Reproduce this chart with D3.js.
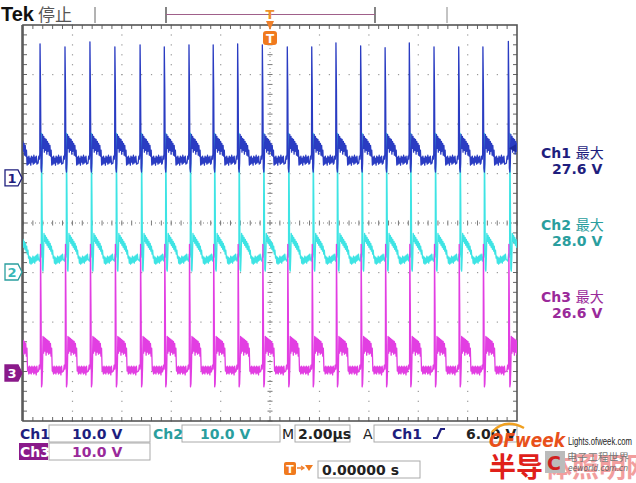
<!DOCTYPE html>
<html>
<head>
<meta charset="utf-8">
<title>Tek scope capture</title>
<script src="https://d3js.org/d3.v7.min.js"></script>
<style>
    html, body { margin: 0; background: #fff; }
    svg { display: block; font-family: "DejaVu Sans", sans-serif; }
</style>
</head>
<body>
<svg id="svg"></svg>
<script>
// spike instants of Ch1 in µs (one extra off each edge)
const spikeTimes = [-10.31, -9.31, -8.30, -7.29, -6.28, -5.26, -4.28, -3.28, -2.30, -1.31, -0.31,
    0.70, 1.69, 2.67, 3.67, 4.66, 5.64, 6.64, 7.64, 8.62, 9.65, 10.65];
// Ch1 spike tops in volts, one per spike
const ch1Peaks = [26.8, 27.1, 26.5, 27.5, 26.5, 26.9, 26.5, 26.9, 26.9, 27.1, 26.9,
    26.5, 26.5, 27.3, 26.7, 26.3, 27.3, 26.5, 26.5, 26.5, 27.6, 26.8];

const channelNames = ["Ch1", "Ch2", "Ch3"];
const channelOffsets = [0.91, -0.99, -3.03];   // ground marker, divisions
const channelDelays = [0, 0.06, 0.02];         // µs behind Ch1 spike
const channelPeaks = [null, 28.0, 26.0];
const channelMax = ["27.6 V", "28.0 V", "26.6 V"];
const voltsPerDiv = 10;

// one period of each trace: [µs after spike, volts]; null = spike top
const ch1Shape = [[-0.08, 3.0], [-0.05, 4.4], [-0.025, 3.8], [-0.01, 5.0], [0, null], [0.02, 18], [0.04, 2.0],
    [0.06, 1.2], [0.08, 3.0], [0.10, 8.8], [0.125, 6.0], [0.15, 8.4], [0.175, 5.2], [0.20, 8.0], [0.225, 5.6],
    [0.25, 7.8], [0.275, 4.8], [0.30, 7.4], [0.325, 5.4], [0.35, 7.0], [0.375, 4.6], [0.40, 6.6], [0.425, 4.4],
    [0.45, 5.6], [0.475, 2.6], [0.50, 4.2], [0.525, 2.8], [0.55, 4.4], [0.575, 3.0], [0.60, 4.0], [0.625, 2.6],
    [0.65, 4.4], [0.675, 3.2], [0.70, 4.2], [0.725, 2.8], [0.75, 4.6], [0.775, 3.0], [0.80, 4.2], [0.825, 3.2],
    [0.85, 4.4], [0.875, 2.8]];
const ch2Shape = [[-0.08, 2.2], [-0.05, 3.6], [-0.025, 3.0], [-0.01, 4.0], [0, null], [0.02, 16], [0.04, 0.6],
    [0.06, 0.2], [0.08, 3.0], [0.10, 7.8], [0.125, 6.2], [0.15, 7.4], [0.175, 5.8], [0.20, 7.0], [0.225, 5.4],
    [0.25, 6.6], [0.275, 5.0], [0.30, 6.2], [0.325, 4.6], [0.35, 5.8], [0.375, 4.2], [0.40, 5.2], [0.425, 3.6],
    [0.45, 4.4], [0.475, 2.8], [0.50, 3.2], [0.525, 1.8], [0.55, 3.0], [0.575, 1.6], [0.60, 2.8], [0.625, 1.8],
    [0.65, 3.2], [0.675, 2.0], [0.70, 3.0], [0.725, 1.8], [0.75, 3.2], [0.775, 2.2], [0.80, 3.4], [0.825, 2.4],
    [0.85, 3.6], [0.875, 2.6]];
const ch3Shape = [[-0.08, 0.4], [-0.05, 1.6], [-0.025, 0.8], [-0.01, 2.0], [0, null], [0.02, 14], [0.04, -2.8],
    [0.06, -2.2], [0.08, 1.0], [0.10, 7.4], [0.125, 4.0], [0.15, 7.2], [0.175, 4.4], [0.20, 7.0], [0.225, 3.6],
    [0.25, 6.8], [0.275, 4.2], [0.30, 6.6], [0.325, 3.8], [0.35, 6.4], [0.375, 4.0], [0.40, 6.0], [0.425, 3.4],
    [0.45, 5.0], [0.475, 0.4], [0.50, 1.2], [0.525, -0.2], [0.55, 1.4], [0.575, 0.0], [0.60, 1.2], [0.625, -0.2],
    [0.65, 1.4], [0.675, 0.2], [0.70, 1.2], [0.725, -0.2], [0.75, 1.4], [0.775, 0.0], [0.80, 1.2], [0.825, -0.4],
    [0.85, 1.4], [0.875, 0.2]];
const shapes = [ch1Shape, ch2Shape, ch3Shape];

const colors = ["#2a3cc2", "#3ee4e4", "#e23ee2"];
const labelColors = ["#1e1e7e", "#2a9e9e", "#9a2a9a"];

const svg = d3.select("#svg").attr("width", 636).attr("height", 483);
svg.append("rect").attr("width", 636).attr("height", 483).attr("fill", "#fff");

const x = d3.scaleLinear().domain([-10, 10]).range([23, 517]);
const y = d3.scaleLinear().domain([-4, 4]).range([421, 25]);

// ---- graticule
const grid = svg.append("g");
const xDots = d3.range(-10, 10.001, 0.4);
const yDots = d3.range(-4, 4.001, 0.2);
d3.range(-8, 8.001, 2).filter(v => v !== 0).forEach(v => {
    grid.selectAll(null).data(yDots).enter().append("rect")
        .attr("x", x(v) - 0.5).attr("y", d => y(d) - 0.5).attr("width", 1.2).attr("height", 1.2)
        .attr("fill", "#999");
});
d3.range(-3, 3.001, 1).filter(v => v !== 0).forEach(v => {
    grid.selectAll(null).data(xDots).enter().append("rect")
        .attr("x", d => x(d) - 0.5).attr("y", y(v) - 0.5).attr("width", 1.2).attr("height", 1.2)
        .attr("fill", "#999");
});
// centre cross with ticks
grid.selectAll(null).data(xDots).enter().append("line")
    .attr("x1", d => x(d)).attr("x2", d => x(d)).attr("y1", y(0) - 2.5).attr("y2", y(0) + 2.5)
    .attr("stroke", "#777");
grid.selectAll(null).data(yDots).enter().append("line")
    .attr("y1", d => y(d)).attr("y2", d => y(d)).attr("x1", x(0) - 2.5).attr("x2", x(0) + 2.5)
    .attr("stroke", "#777");
grid.append("line").attr("x1", x(-10)).attr("x2", x(10)).attr("y1", y(0)).attr("y2", y(0))
    .attr("stroke", "#888").attr("stroke-dasharray", "1,3");
grid.append("line").attr("x1", x(0)).attr("x2", x(0)).attr("y1", y(-4)).attr("y2", y(4))
    .attr("stroke", "#888").attr("stroke-dasharray", "1,3");
// border ticks
const edgeX = xDots.slice(1, -1), edgeY = yDots.slice(1, -1);
grid.selectAll(null).data(edgeX).enter().append("line")
    .attr("x1", d => x(d)).attr("x2", d => x(d)).attr("y1", y(4)).attr("y2", y(4) + 4).attr("stroke", "#666");
grid.selectAll(null).data(edgeX).enter().append("line")
    .attr("x1", d => x(d)).attr("x2", d => x(d)).attr("y1", y(-4)).attr("y2", y(-4) - 4).attr("stroke", "#666");
grid.selectAll(null).data(edgeY).enter().append("line")
    .attr("y1", d => y(d)).attr("y2", d => y(d)).attr("x1", x(-10)).attr("x2", x(-10) + 4).attr("stroke", "#666");
grid.selectAll(null).data(edgeY).enter().append("line")
    .attr("y1", d => y(d)).attr("y2", d => y(d)).attr("x1", x(10)).attr("x2", x(10) - 4).attr("stroke", "#666");

// ---- traces
svg.append("clipPath").attr("id", "screen").append("rect")
    .attr("x", x(-10)).attr("y", y(4)).attr("width", x(10) - x(-10)).attr("height", y(-4) - y(4));

function buildTrace(shape, delay, peak) {
    const pts = [];
    spikeTimes.forEach((s, i) => {
        const next = i < spikeTimes.length - 1 ? spikeTimes[i + 1] : Infinity;
        shape.forEach(([dt, v]) => {
            if (s + dt >= next - 0.085) return;
            pts.push([s + delay + dt, v === null ? (peak === null ? ch1Peaks[i] : peak) : v]);
        });
    });
    return pts;
}

const traces = svg.append("g").attr("clip-path", "url(#screen)");
[1, 2, 0].forEach(c => {
    const line = d3.line()
        .x(d => x(d[0]))
        .y(d => y(channelOffsets[c] + d[1] / voltsPerDiv));
    traces.append("path")
        .attr("d", line(buildTrace(shapes[c], channelDelays[c], channelPeaks[c])))
        .attr("fill", "none")
        .attr("stroke", colors[c])
        .attr("stroke-width", 1.3)
        .attr("stroke-linejoin", "round");
});

grid.append("rect").attr("x", x(-10)).attr("y", y(4)).attr("width", x(10) - x(-10)).attr("height", y(-4) - y(4))
    .attr("fill", "none").attr("stroke", "#555").attr("stroke-width", 1.6);
svg.append("line").attr("x1", x(-10) - 1).attr("x2", x(-10) - 1).attr("y1", y(4)).attr("y2", y(-4))
    .attr("stroke", "#555").attr("stroke-width", 1.5);

// ---- ground markers
channelOffsets.forEach((off, c) => {
    const gy = y(off);
    const g = svg.append("g");
    g.append("path")
        .attr("d", `M5,${gy - 8}H18L22,${gy}L18,${gy + 8}H5Z`)
        .attr("fill", c === 2 ? "#8a1a8a" : "#fff")
        .attr("stroke", c === 2 ? "#8a1a8a" : labelColors[c]).attr("stroke-width", 1.3);
    g.append("text").attr("x", 12).attr("y", gy + 5).attr("text-anchor", "middle")
        .attr("font-size", 13).attr("font-weight", "bold")
        .attr("fill", c === 2 ? "#fff" : (c === 1 ? "#3ab8b8" : labelColors[c]))
        .text(c + 1);
});

// trigger level arrow (Ch1, 6 V)
const trigY = y(channelOffsets[0] + 6 / voltsPerDiv);
svg.append("path").attr("d", `M509,${trigY}L516,${trigY - 4}V${trigY + 4}Z`).attr("fill", "#1e2a9a");

// ---- right side readouts
channelNames.forEach((n, c) => {
    const ty = [158, 230, 302][c];
    svg.append("text").attr("x", 541).attr("y", ty).attr("font-size", 14).attr("fill", labelColors[c])
        .attr("font-weight", "bold").text(n + " ")
        .append("tspan").attr("font-family", "Noto Sans CJK SC").attr("font-weight", "normal").text("最大");
    svg.append("text").attr("x", 552).attr("y", ty + 16).attr("font-size", 14).attr("fill", labelColors[c])
        .attr("font-weight", "bold").text(channelMax[c]);
});

// ---- header
svg.append("text").attr("x", 1).attr("y", 21).attr("font-family", "Liberation Sans").attr("font-size", 20)
    .attr("font-weight", "bold").attr("fill", "#111").text("Tek");
svg.append("text").attr("x", 38).attr("y", 21).attr("font-family", "Noto Sans CJK SC").attr("font-size", 17)
    .attr("fill", "#555").text("停止");
svg.append("line").attr("x1", 95).attr("x2", 95).attr("y1", 7).attr("y2", 23).attr("stroke", "#666");
svg.append("line").attr("x1", 447).attr("x2", 447).attr("y1", 7).attr("y2", 23).attr("stroke", "#888");
svg.append("path").attr("d", "M166,7V23M375,7V23").attr("stroke", "#333").attr("stroke-width", 1.2);
svg.append("line").attr("x1", 166).attr("x2", 375).attr("y1", 14.5).attr("y2", 14.5).attr("stroke", "#a0608a");
const tx = x(0);
svg.append("text").attr("x", tx).attr("y", 19).attr("text-anchor", "middle").attr("font-size", 13)
    .attr("font-weight", "bold").attr("fill", "#f0902a").text("T");
svg.append("path").attr("d", `M${tx - 4},21H${tx + 4}L${tx},30Z`).attr("fill", "#f0802a");
svg.append("rect").attr("x", tx - 7).attr("y", 31).attr("width", 14).attr("height", 14).attr("rx", 3)
    .attr("fill", "#f07a1e");
svg.append("text").attr("x", tx).attr("y", 43).attr("text-anchor", "middle").attr("font-size", 12)
    .attr("font-weight", "bold").attr("fill", "#fff").text("T");

// ---- status bar
const status = svg.append("g").attr("font-size", 14).attr("font-weight", "bold");
function box(x0, y0, w, h) {
    status.append("rect").attr("x", x0).attr("y", y0).attr("width", w).attr("height", h)
        .attr("fill", "#fff").attr("stroke", "#aaa");
}
box(49, 425, 101, 17); box(182, 425, 98, 17); box(295, 425, 55, 17); box(374, 425, 143, 17);
box(49, 443, 101, 17); box(318, 461, 102, 17);
status.append("text").attr("x", 20).attr("y", 439).attr("fill", labelColors[0]).text("Ch1");
status.append("text").attr("x", 72).attr("y", 439).attr("fill", labelColors[0]).text("10.0 V");
status.append("text").attr("x", 153).attr("y", 439).attr("fill", labelColors[1]).text("Ch2");
status.append("text").attr("x", 200).attr("y", 439).attr("fill", labelColors[1]).text("10.0 V");
status.append("text").attr("x", 282).attr("y", 439).attr("fill", "#222").attr("font-weight", "normal").text("M");
status.append("text").attr("x", 298).attr("y", 439).attr("fill", "#222").text("2.00µs");
status.append("text").attr("x", 363).attr("y", 439).attr("fill", "#222").attr("font-weight", "normal").text("A");
status.append("text").attr("x", 392).attr("y", 439).attr("fill", labelColors[0]).text("Ch1");
status.append("path").attr("d", "M433,438H437L441,429H445").attr("fill", "none")
    .attr("stroke", "#1e1e7e").attr("stroke-width", 2.2);
status.append("text").attr("x", 466).attr("y", 439).attr("fill", "#222").text("6.00 V");
status.append("rect").attr("x", 19).attr("y", 443).attr("width", 29).attr("height", 17).attr("fill", "#8a1a8a");
status.append("text").attr("x", 20).attr("y", 457).attr("fill", "#fff").text("Ch3");
status.append("text").attr("x", 72).attr("y", 457).attr("fill", labelColors[2]).text("10.0 V");
status.append("rect").attr("x", 284).attr("y", 462).attr("width", 12).attr("height", 13).attr("rx", 2)
    .attr("fill", "#f07a1e");
status.append("text").attr("x", 290).attr("y", 473).attr("text-anchor", "middle").attr("font-size", 11)
    .attr("fill", "#fff").text("T");
status.append("path").attr("d", "M297,468H303M301,466L304,468L301,470").attr("stroke", "#f08030")
    .attr("fill", "none").attr("stroke-width", 1.3);
status.append("path").attr("d", "M305,465H313L309,471Z").attr("fill", "#f07a1e");
status.append("text").attr("x", 322).attr("y", 475).attr("fill", "#222").text("0.00000 s");

// ---- watermark
const wm = svg.append("g");
wm.append("path").attr("d", "M492,432Q505,418 524,428").attr("fill", "none").attr("stroke", "#f0a020")
    .attr("stroke-width", 2.5);
wm.append("text").attr("x", 489).attr("y", 447).attr("font-size", 20).attr("font-weight", "bold")
    .attr("font-style", "italic").attr("fill", "#e8501a").attr("textLength", 76).attr("lengthAdjust", "spacingAndGlyphs")
    .text("OFweek");
wm.append("text").attr("x", 568).attr("y", 445).attr("font-family", "Liberation Sans").attr("font-size", 10)
    .attr("fill", "#222").attr("textLength", 64).attr("lengthAdjust", "spacingAndGlyphs").text("Lights.ofweek.com");
wm.append("text").attr("x", 489).attr("y", 477).attr("font-family", "Noto Sans CJK SC").attr("font-size", 27)
    .attr("font-weight", "bold").attr("fill", "#e0201a").text("半导");
wm.append("text").attr("x", 545).attr("y", 477).attr("font-family", "Noto Sans CJK SC").attr("font-size", 27)
    .attr("font-weight", "bold").attr("fill", "#e85050").attr("opacity", 0.55).text("体照明网");
wm.append("rect").attr("x", 545).attr("y", 451).attr("width", 20).attr("height", 22).attr("fill", "#bbb");
wm.append("text").attr("x", 547).attr("y", 470).attr("font-size", 19).attr("font-weight", "bold")
    .attr("fill", "#d02020").text("C");
wm.append("text").attr("x", 567).attr("y", 461).attr("font-family", "Noto Sans CJK SC").attr("font-size", 10)
    .attr("fill", "#777").attr("textLength", 62).attr("lengthAdjust", "spacingAndGlyphs").text("电子工程世界");
wm.append("text").attr("x", 568).attr("y", 471).attr("font-size", 9).attr("font-style", "italic")
    .attr("fill", "#666").attr("textLength", 60).attr("lengthAdjust", "spacingAndGlyphs").text("eeworld.com.cn");
</script>
</body>
</html>
